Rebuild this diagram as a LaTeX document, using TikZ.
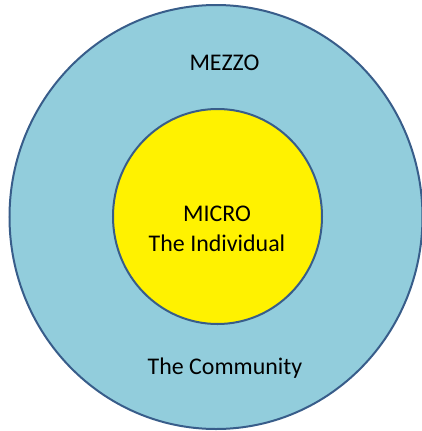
\documentclass[tikz,border=0pt]{standalone}
\usepackage{fontspec}
\setmainfont{Carlito}
\usepackage{tikz}
\usetikzlibrary{shapes.geometric}

\definecolor{ringblue}{RGB}{146,205,220}
\definecolor{rimblue}{RGB}{56,93,138}

\begin{document}
\begin{tikzpicture}[
  x=1bp, y=-1bp,
  level/.style={ellipse,draw=rimblue,line width=2bp,inner sep=0pt},
  every node/.style={font=\fontsize{24}{30}\selectfont,align=center}
  ]

\useasboundingbox (0,0) rectangle (422,431);

\node[level,fill=ringblue,minimum width=413bp,minimum height=424bp] (mezzo) at (216,217) {};
\node[level,fill=yellow,minimum width=209bp,minimum height=215bp] (micro) at (217.5,216.5) {};

\node[anchor=base,inner sep=0pt] (mezzolabel) at (224.5,70.7) {MEZZO};
\node[anchor=base,inner sep=0pt] (community) at (225,374) {The Community};
\node[anchor=base,inner sep=0pt] (individual) at (217,251.7) {MICRO\\The Individual};

\end{tikzpicture}
\end{document}
